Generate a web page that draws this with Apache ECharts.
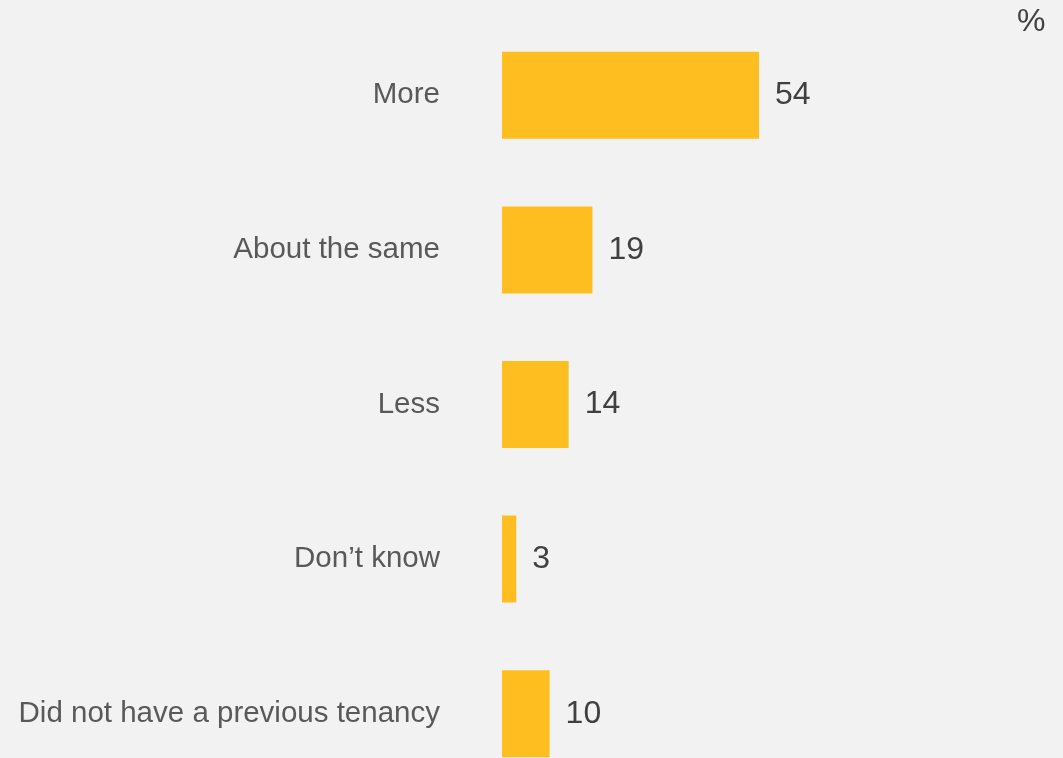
<!DOCTYPE html>
<html>
<head>
<meta charset="utf-8">
<script src="https://cdn.jsdelivr.net/npm/echarts@6/dist/echarts.min.js"></script>
<style>
  html, body { margin: 0; padding: 0; background: #f2f2f2; }
  #chart { width: 1063px; height: 758px; }
</style>
</head>
<body>
<div id="chart"></div>
<script>
// Answer categories, top to bottom
const categories = ['More', 'About the same', 'Less', 'Don\u2019t know', 'Did not have a previous tenancy'];
// Share of respondents (%)
const values = [54, 19, 14, 3, 10];
const unitLabel = '%';

const chart = echarts.init(document.getElementById('chart'));
chart.setOption({
  backgroundColor: '#f2f2f2',
  animation: false,
  // the last band runs past the bottom edge, so let the grid extend beyond the canvas
  grid: { left: 502, width: 476, top: 18, height: 773, outerBoundsMode: 'none', containLabel: false },
  xAxis: {
    type: 'value', min: 0, max: 100, show: false
  },
  yAxis: {
    type: 'category',
    data: categories,
    inverse: true,
    axisLine: { show: false },
    axisTick: { show: false },
    splitLine: { show: false },
    axisLabel: {
      margin: 62,
      color: '#595959',
      fontFamily: 'Liberation Sans, Arial, sans-serif',
      fontSize: 29.5
    }
  },
  graphic: [{
    type: 'text',
    left: 1017,
    top: 6,
    style: {
      text: unitLabel,
      fill: '#404040',
      font: '32px "Liberation Sans", Arial, sans-serif'
    }
  }],
  series: [{
    type: 'bar',
    data: values,
    barWidth: 87,
    itemStyle: { color: '#ffbe1f' },
    label: {
      show: true,
      position: 'right',
      distance: 16,
      color: '#404040',
      fontFamily: 'Liberation Sans, Arial, sans-serif',
      fontSize: 32
    }
  }]
});
</script>
</body>
</html>
